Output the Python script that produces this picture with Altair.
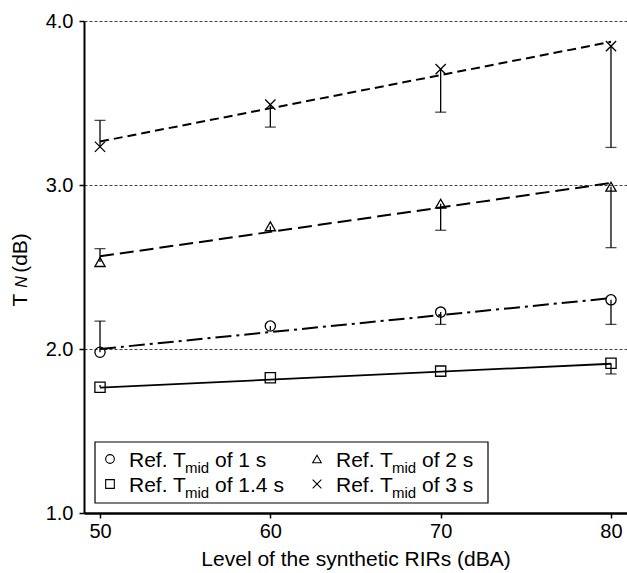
import altair as alt
import pandas as pd

# ---------------- data ----------------
levels = [50, 60, 70, 80]
series_names = ["1 s", "1.4 s", "2 s", "3 s"]

tn_1s = [1.98, 2.14, 2.225, 2.30]
err_1s = [2.17, 2.115, 2.15, 2.15]
fit_1s = [2.00, 2.31]

tn_14s = [1.767, 1.825, 1.865, 1.913]
err_14s = [1.78, 1.825, 1.865, 1.848]
fit_14s = [1.765, 1.91]

tn_2s = [2.53, 2.748, 2.886, 2.99]
err_2s = [2.612, 2.725, 2.724, 2.618]
fit_2s = [2.565, 3.012]

tn_3s = [3.233, 3.49, 3.707, 3.847]
err_3s = [3.394, 3.353, 3.444, 3.229]
fit_3s = [3.265, 3.873]

fit_x = [50, 80]
y_ticks = [1.0, 2.0, 3.0, 4.0]

FONT = "Liberation Sans"
CROSS = "M-1,-1L1,1M-1,1L1,-1"
shape_range = ["circle", "square", "triangle-up", CROSS]

tn_all = [tn_1s, tn_14s, tn_2s, tn_3s]
err_all = [err_1s, err_14s, err_2s, err_3s]
fit_all = [fit_1s, fit_14s, fit_2s, fit_3s]
dash_all = [[16, 5, 3, 5], None, [14, 6], [9, 5]]

rows = []
for name, tns, errs in zip(series_names, tn_all, err_all):
    for lv, t, e in zip(levels, tns, errs):
        rows.append({"series": name, "level": lv, "tn": t, "err": e,
                     "cap": abs(e - t) > 0.03})
pts = pd.DataFrame(rows)

fit_rows = []
for name, f in zip(series_names, fit_all):
    for xv, yv in zip(fit_x, f):
        fit_rows.append({"series": name, "level": xv, "tn": yv})
fits = pd.DataFrame(fit_rows)

xscale = alt.Scale(domain=[49.06, 80.94], nice=False, zero=False)
yscale = alt.Scale(domain=[1.0, 4.0], nice=False, zero=False)

X = alt.X("level:Q", scale=xscale,
          axis=alt.Axis(values=levels, grid=False, domainWidth=2.5, domainColor="black",
                        tickSize=5, tickWidth=1.5, tickColor="black", labelPadding=3,
                        labelFontSize=20, labelFont=FONT, labelColor="black",
                        title="Level of the synthetic RIRs (dBA)", titleFont=FONT,
                        titleFontSize=21, titleFontWeight="normal", titleColor="black",
                        titlePadding=7))
Y = alt.Y("tn:Q", scale=yscale,
          axis=alt.Axis(values=y_ticks, format=".1f", grid=True, gridDash=[3, 2],
                        gridColor="#111", gridWidth=0.8, domainWidth=2, domainColor="black",
                        tickSize=5, tickWidth=1.5, tickColor="black", labelPadding=6,
                        labelFontSize=20, labelFont=FONT, labelColor="black", title=None))

layers = []

# fit lines
for name, dash in zip(series_names, dash_all):
    kw = dict(color="black", strokeWidth=2 if dash else 1.8)
    if dash:
        kw["strokeDash"] = dash
    layers.append(
        alt.Chart(fits).transform_filter(alt.datum.series == name)
        .mark_line(**kw).encode(x=X, y=Y)
    )

# error bars
layers.append(
    alt.Chart(pts).mark_rule(color="black", strokeWidth=1.3)
    .encode(x=X, y=Y, y2="err:Q")
)
layers.append(
    alt.Chart(pts).transform_filter(alt.datum.cap)
    .mark_tick(color="black", thickness=1.3, size=11, orient="horizontal")
    .encode(x=X, y=alt.Y("err:Q", scale=yscale))
)

# markers
layers.append(
    alt.Chart(pts).mark_point(filled=False, color="black", strokeWidth=1.3, size=105, opacity=1)
    .encode(x=X, y=Y,
            shape=alt.Shape("series:N", scale=alt.Scale(domain=series_names, range=shape_range),
                            legend=None))
)

# ---------------- manual legend ----------------
legend_box = alt.Chart(pd.DataFrame({"a": [0]})).mark_rect(
    fill="white", stroke="black", strokeWidth=1.2
).encode(x=alt.value(11), x2=alt.value(404), y=alt.value(421), y2=alt.value(482))
layers.append(legend_box)

leg_items = [
    ("1 s", "circle", 26, 438),
    ("1.4 s", "square", 26, 463),
    ("2 s", "triangle-up", 233, 438),
    ("3 s", CROSS, 233, 463),
]
base = alt.Chart(pd.DataFrame({"a": [0]}))
for name, shp, sx, sy in leg_items:
    layers.append(base.mark_point(shape=shp, filled=False, color="black", strokeWidth=1.1,
                                  size=75, opacity=1)
                  .encode(x=alt.value(sx), y=alt.value(sy)))
    tx = sx + 19
    layers.append(base.mark_text(text="Ref. T", font=FONT, fontSize=21, align="left",
                                 baseline="alphabetic", color="black")
                  .encode(x=alt.value(tx), y=alt.value(sy + 8)))
    layers.append(base.mark_text(text="mid", font=FONT, fontSize=15, align="left",
                                 baseline="alphabetic", color="black")
                  .encode(x=alt.value(tx + 56), y=alt.value(sy + 14)))
    layers.append(base.mark_text(text="of " + name, font=FONT, fontSize=21, align="left",
                                 baseline="alphabetic", color="black")
                  .encode(x=alt.value(tx + 86), y=alt.value(sy + 8)))

# ---------------- y axis title: T_N (dB) ----------------
layers.append(base.mark_text(text="T", font=FONT, fontSize=21, angle=270, align="center",
                             baseline="alphabetic", color="black")
              .encode(x=alt.value(-57), y=alt.value(279)))
layers.append(base.mark_text(text="N", font=FONT, fontSize=16, fontStyle="italic", angle=270,
                             align="center", baseline="alphabetic", color="black")
              .encode(x=alt.value(-57), y=alt.value(261)))
layers.append(base.mark_text(text="(dB)", font=FONT, fontSize=21, angle=270, align="center",
                             baseline="alphabetic", color="black")
              .encode(x=alt.value(-57), y=alt.value(232)))

chart = alt.layer(*layers).properties(
    width=543, height=492,
    padding={"left": 84, "top": 21, "right": 0, "bottom": 60},
    autosize=alt.AutoSizeParams(type="none"),
    background="white",
).configure_view(strokeWidth=0)

chart.save("out.html", embed_options={"renderer": "svg", "actions": False})
